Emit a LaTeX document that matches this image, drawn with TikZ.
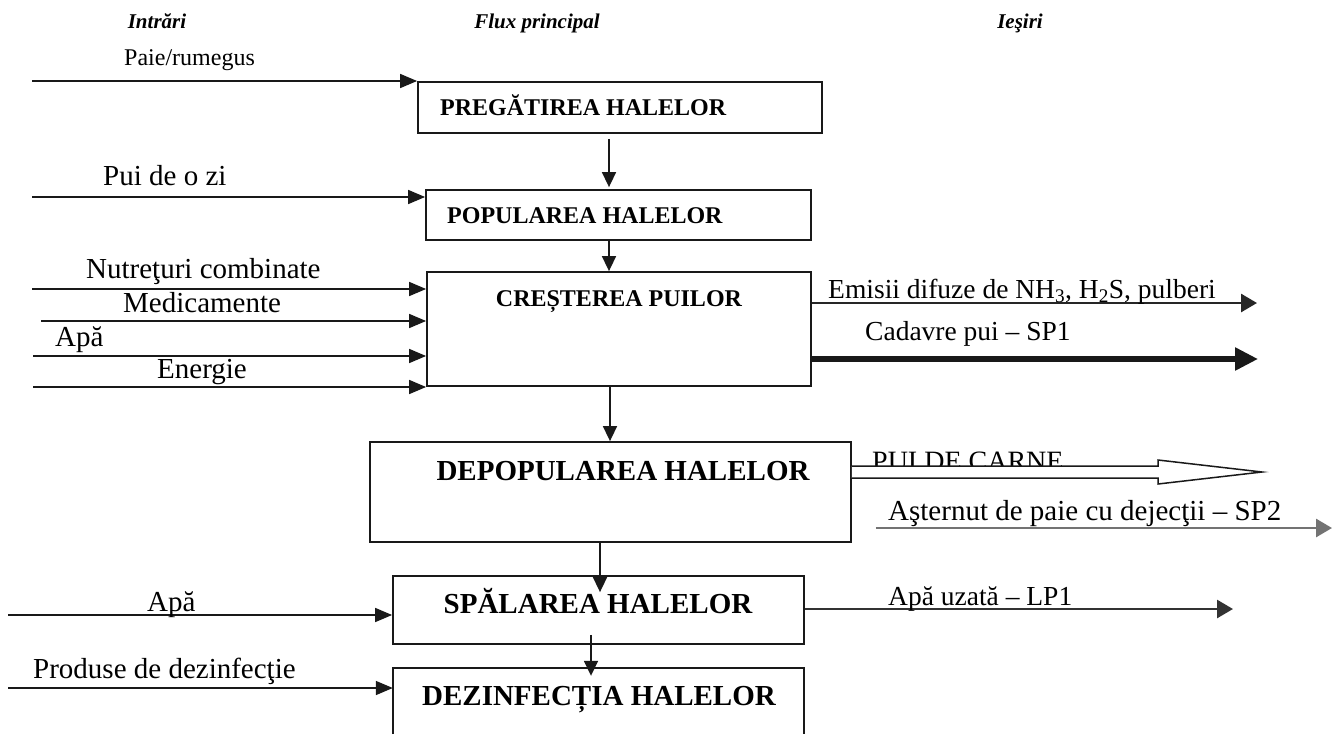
\documentclass[tikz,border=0pt]{standalone}
\usepackage{fontspec}
\setmainfont{Liberation Serif}
\usetikzlibrary{arrows.meta,calc}
\begin{document}
\begin{tikzpicture}[x=1pt,y=-1pt,
  box/.style={draw=black!90, line width=1.8pt, inner sep=0pt},
  hdr/.style={inner sep=0pt, anchor=base, font=\bfseries\itshape\fontsize{21}{25}\selectfont},
  lab/.style={inner sep=0pt, font=\fontsize{29}{34}\selectfont},
  olab/.style={inner sep=0pt, font=\fontsize{27.5}{32}\selectfont},
  tsmall/.style={inner sep=0pt, font=\bfseries\fontsize{24}{28}\selectfont},
  tbig/.style={inner sep=0pt, anchor=base, font=\bfseries\fontsize{29}{34}\selectfont},
  arr/.style={draw=black!90, line width=1.6pt, -{Triangle[length=17pt,width=14pt]}},
  varr/.style={draw=black!90, line width=1.6pt, -{Triangle[length=15pt,width=14pt]}},
  oarr/.style={draw=black!85, line width=2.8pt, -{Triangle[length=16pt,width=18pt]}}
]
\fill[white] (0,0) rectangle (1333,734);
\useasboundingbox (0,0) rectangle (1333,734);

% headers
\node[hdr] (h1) at (157,28) {Intrări};
\node[hdr] (h2) at (537,28) {Flux principal};
\node[hdr] (h3) at (1020,28) {Ieşiri};

% main boxes
\node[box, minimum width=404pt, minimum height=51pt] (b1) at (620,107.5) {};
\node[box, minimum width=385pt, minimum height=50pt] (b2) at (618.5,215) {};
\node[box, minimum width=384pt, minimum height=114pt] (b3) at (619,329) {};
\node[box, minimum width=481pt, minimum height=100pt] (b4) at (610.5,492) {};
\node[box, minimum width=411pt, minimum height=68pt] (b5) at (598.5,610) {};
\node[inner sep=0pt, minimum width=411pt, minimum height=66pt] (b6) at (598.5,701) {};
\draw[draw=black!90, line width=1.8pt] (b6.south west) -- (b6.north west) -- (b6.north east) -- (b6.south east);

% box texts
\node[tsmall, anchor=base west] (t1) at (440,115) {PREGĂTIREA HALELOR};
\node[tsmall, anchor=base west] (t2) at (447,223) {POPULAREA HALELOR};
\node[tsmall, anchor=base] (t3) at (619,306) {CREȘTEREA PUILOR};
\node[tbig] (t4) at (623,480) {DEPOPULAREA HALELOR};
\node[tbig] (t5) at (598,613) {SPĂLAREA HALELOR};
\node[tbig] (t6) at (599,705) {DEZINFECȚIA HALELOR};

% vertical flow
\coordinate (v1) at (609,0);
\coordinate (v3) at (610,0);
\coordinate (v4) at (600,0);
\coordinate (v5) at (591,0);
\draw[varr] ($(b1.south -| v1)+(0,5)$) -- ($(b2.north -| v1)+(0,-2)$);
\draw[varr] (b2.south -| v1) -- (b3.north -| v1);
\draw[varr] (b3.south -| v3) -- (b4.north -| v3);
\draw[varr] (b4.south -| v4) -- ($(b5.north -| v4)+(0,17)$);
\draw[varr] ($(b5.south -| v5)+(0,-10)$) -- ($(b6.north -| v5)+(0,8)$);

% inputs
\coordinate (i1) at (32,81);
\coordinate (i2) at (32,197);
\coordinate (i3) at (32,289);
\coordinate (i4) at (41,321);
\coordinate (i5) at (33,356);
\coordinate (i6) at (33,387);
\coordinate (i7) at (8,615);
\coordinate (i8) at (8,688);
\draw[arr] (i1) -- (i1 -| b1.west);
\draw[arr] (i2) -- (i2 -| b2.west);
\draw[arr] (i3) -- (i3 -| b3.west);
\draw[arr] (i4) -- (i4 -| b3.west);
\draw[arr] (i5) -- (i5 -| b3.west);
\draw[arr] (i6) -- (i6 -| b3.west);
\draw[arr] (i7) -- (i7 -| b5.west);
\draw[arr] (i8) -- (i8 -| b6.west);

\node[lab, anchor=base west, font=\fontsize{24}{28}\selectfont] (l1) at (124,65) {Paie/rumegus};
\node[lab, anchor=base west] (l2) at (103,185) {Pui de o zi};
\node[lab, anchor=base west] (l3) at (86,278) {Nutreţuri combinate};
\node[lab, anchor=base west] (l4) at (123,312) {Medicamente};
\node[lab, anchor=base west] (l5) at (55,346) {Apă};
\node[lab, anchor=base west] (l6) at (157,378) {Energie};
\node[lab, anchor=base west] (l7) at (147,611) {Apă};
\node[lab, anchor=base west] (l8) at (33,678) {Produse de dezinfecţie};

% outputs
\coordinate (o1) at (1257,303);
\coordinate (o2) at (1258,359);
\coordinate (o4) at (1332,528);
\coordinate (o5) at (1233,609);
\draw[oarr] (o1 -| b3.east) -- (o1);
\draw[draw=black!90, line width=5.5pt, -{Triangle[length=23pt,width=22pt]}] (o2 -| b3.east) -- (o2);
\draw[oarr, draw=black!55] ($(b4.east |- o4)+(24,0)$) -- (o4);
\draw[oarr, draw=black!80] (o5 -| b5.east) -- (o5);

\node[olab, anchor=base west] (m1) at (828,298) {Emisii difuze de NH\textsubscript{3}, H\textsubscript{2}S, pulberi};
\node[olab, anchor=base west] (m2) at (865,340) {Cadavre pui – SP1};
\node[olab, anchor=base west, font=\fontsize{28}{32}\selectfont] (m3) at (872,470) {PUI DE CARNE};
\node[lab, anchor=base west] (m4) at (888,520) {Aşternut de paie cu dejecţii – SP2};
\node[olab, anchor=base west] (m5) at (888,605) {Apă uzată – LP1};

% hollow arrow for PUI DE CARNE
\coordinate (p1) at (1158,466);
\coordinate (p2) at (1158,478);
\coordinate (ptip) at (1262,472);
\filldraw[fill=white, draw=black!90, line width=1.5pt, line join=miter]
  (b4.east |- p1) -- (p1) -- ++(0,-6) -- (ptip) -- ($(p2)+(0,6)$) -- (p2) -- (b4.east |- p2);
\end{tikzpicture}
\end{document}
